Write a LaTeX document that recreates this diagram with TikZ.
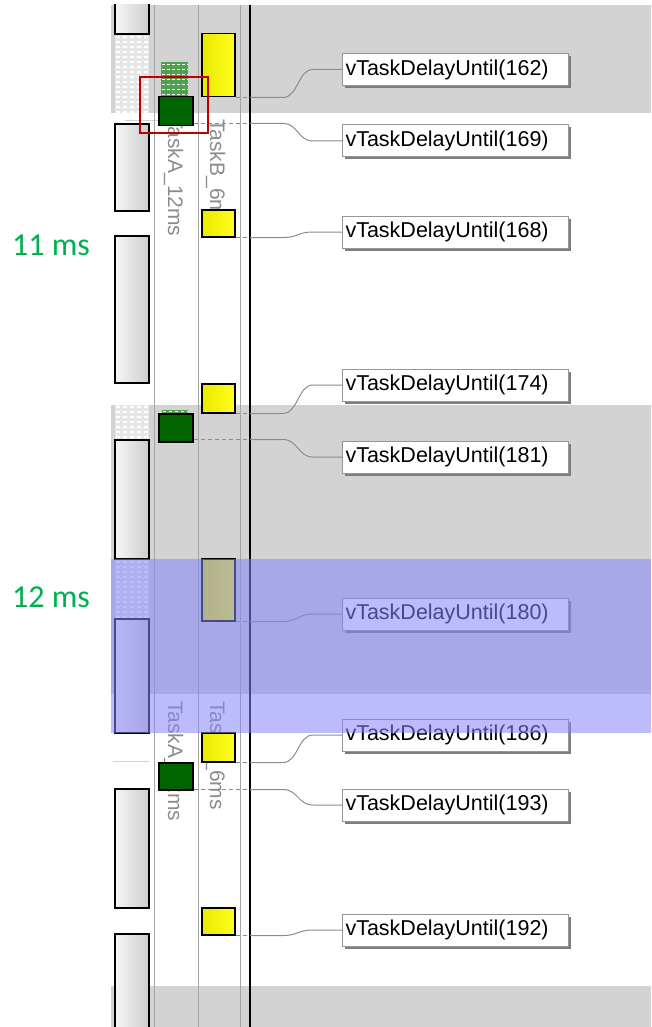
\documentclass[tikz,border=0pt]{standalone}
\usepackage{fontspec}
\setmainfont{Liberation Sans}
\newfontfamily\carl{Carlito}
\usetikzlibrary{shadows,calc}
\definecolor{bandgray}{RGB}{211,211,211}
\definecolor{linegray}{RGB}{165,165,165}
\definecolor{conngray}{RGB}{140,140,140}
\definecolor{boxborder}{RGB}{150,150,150}
\definecolor{shadowgray}{RGB}{125,125,125}
\definecolor{barL}{RGB}{246,246,246}
\definecolor{barR}{RGB}{205,205,205}
\definecolor{yelL}{RGB}{232,232,0}
\definecolor{yelR}{RGB}{255,255,30}
\definecolor{dkgreen}{RGB}{0,100,0}
\definecolor{hatchgreen}{RGB}{80,160,80}
\definecolor{redbox}{RGB}{192,0,0}
\definecolor{overlayblue}{RGB}{133,133,251}
\definecolor{msgreen}{RGB}{0,176,80}
\definecolor{tasktext}{RGB}{140,140,140}
\newcommand\lblfont{\fontsize{21.5}{24}\selectfont}
\begin{document}
\begin{tikzpicture}[x=1pt,y=-1pt,
  bar/.style={draw=black, line width=1.5pt, left color=barL, right color=barR},
  ybox/.style={draw=black, line width=1.5pt, left color=yelL, right color=yelR, inner sep=0pt, anchor=north west, minimum width=33pt},
  gbox/.style={draw=black, line width=1.5pt, fill=dkgreen, inner sep=0pt, anchor=north west, minimum width=34pt},
  lbl/.style={draw=boxborder, fill=white, anchor=west, minimum height=32pt, text width=220pt, inner sep=3pt, align=left, font=\lblfont, line width=1pt,
     drop shadow={shadow xshift=2.5pt, shadow yshift=-2.5pt, fill=shadowgray, opacity=1}},
  tasklbl/.style={text=tasktext, font=\fontsize{21}{24}\selectfont, inner sep=0pt, rotate=-90, anchor=base west},
  conn/.style={draw=conngray, line width=1pt},
  vline/.style={draw=linegray, line width=1pt},
  msl/.style={text=msgreen, font=\carl\fontsize{32}{36}\selectfont, inner sep=0pt, anchor=base}
]
\useasboundingbox (0,0) rectangle (651,1027);
\fill[white] (0,0) rectangle (651,1027);
\begin{scope}
\clip (111,5) rectangle (651,1027);
% bands
\fill[bandgray] (111,5) rectangle (651,113);
\fill[bandgray] (111,405) rectangle (651,694);
\fill[bandgray] (111,986) rectangle (651,1027);
% left column dotted background
\fill[white, opacity=0.45] (115,5) rectangle (149,1027);
\foreach \r in {0,...,204} {
  \foreach \c in {0,...,4} {
    \fill[white] ({116+\c*7},{6+\r*5}) rectangle +(4,2);
  }
}
\draw[gray!35, line width=0.8pt] (125,120) -- (158,120);
\draw[gray!35, line width=0.8pt] (113,761) -- (150,761);
% column lines
\draw[vline] (154,5) -- (154,1027);
\draw[vline] (198,5) -- (198,1027);
\draw[vline] (240,5) -- (240,1027);
\draw[black, line width=2pt] (249.5,5) -- (249.5,1027);
% rotated task names
\node[tasklbl] (ta1) at (168,116) {TaskA\_12ms};
\node[tasklbl] (tb1) at (210,119) {TaskB\_6ms};
\node[tasklbl] (ta2) at (168,701) {TaskA\_12ms};
\node[tasklbl] (tb2) at (210,701) {TaskB\_6ms};
% left bars
\draw[bar] (115,-10) rectangle (149,34);
\draw[bar] (115,124) rectangle (149,211);
\draw[bar] (115,236) rectangle (149,383);
\draw[bar] (115,440) rectangle (149,559);
\draw[bar] (115,619) rectangle (149,733);
\draw[bar] (115,789) rectangle (149,908);
\draw[bar] (115,934) rectangle (149,1045);
% hatched green
\fill[hatchgreen] (161,62) rectangle (188,96);
\foreach \r in {0,...,6} {
  \draw[white, line width=1.3pt, dash pattern=on 3pt off 2pt] (162,{64.5+\r*5}) -- (188,{64.5+\r*5});
}
\fill[hatchgreen] (162,410) rectangle (188,414);
\draw[white, line width=1.2pt, dash pattern=on 3pt off 3pt] (163,411.5) -- (188,411.5);
% green boxes
\node[gbox, minimum height=29pt] (gA1) at (158,96) {};
\node[gbox, minimum height=28pt] (gA2) at (158,413) {};
\node[gbox, minimum height=27pt] (gA3) at (158,762) {};
% yellow boxes
\node[ybox, minimum height=63pt] (yB1) at (201,33) {};
\node[ybox, minimum height=27pt] (yB2) at (201,209) {};
\node[ybox, minimum height=29pt] (yB3) at (201,383) {};
\node[ybox, minimum height=62pt] (yB4) at (201,558) {};
\node[ybox, minimum height=29pt] (yB5) at (201,732) {};
\node[ybox, minimum height=27pt] (yB6) at (201,907) {};
% labels
\node[lbl] (l162) at (342,69.5) {vTaskDelayUntil(162)};
\node[lbl] (l169) at (342,141) {vTaskDelayUntil(169)};
\node[lbl] (l168) at (342,232) {vTaskDelayUntil(168)};
\node[lbl] (l174) at (342,385) {vTaskDelayUntil(174)};
\node[lbl] (l181) at (342,457) {vTaskDelayUntil(181)};
\node[lbl] (l180) at (342,614) {vTaskDelayUntil(180)};
\node[lbl] (l186) at (342,735) {vTaskDelayUntil(186)};
\node[lbl] (l193) at (342,805) {vTaskDelayUntil(193)};
\node[lbl] (l192) at (342,930) {vTaskDelayUntil(192)};
% connector helper coordinates
\coordinate (cx0) at (250,0);
\coordinate (cx1) at (283,0);
\coordinate (cxm) at (298,0);
\coordinate (cx2) at (313,0);
\coordinate (sB1) at (yB1.south east);
\coordinate (sB2) at (yB2.south east);
\coordinate (sB3) at (yB3.south east);
\coordinate (sB4) at (yB4.south east);
\coordinate (sB5) at (yB5.south east);
\coordinate (sB6) at (yB6.south east);
\coordinate (sA1) at ([yshift=3pt]gA1.south east);
\coordinate (sA2) at ([yshift=3pt]gA2.south east);
\coordinate (sA3) at ([yshift=1pt]gA3.south east);
\foreach \s/\l in {sB1/l162, sA1/l169, sB2/l168, sB3/l174, sA2/l181, sB4/l180, sB5/l186, sA3/l193, sB6/l192} {
  \draw[conn, dash pattern=on 4pt off 3pt] (\s) -- (\s -| cx0);
  \draw[conn] (\s -| cx0) -- (\s -| cx1) .. controls (\s -| cxm) and (\l.west -| cxm) .. (\l.west -| cx2) -- (\l.west);
}
% red highlight
\draw[redbox, line width=2pt] (140,77) rectangle (208,133);
% blue selection overlay
\fill[overlayblue, opacity=0.55] (111,559) rectangle (651,733);
\end{scope}
% timing annotations
\node[msl] (ms11) at (51,255) {11 ms};
\node[msl] (ms12) at (51,607) {12 ms};
\end{tikzpicture}
\end{document}
